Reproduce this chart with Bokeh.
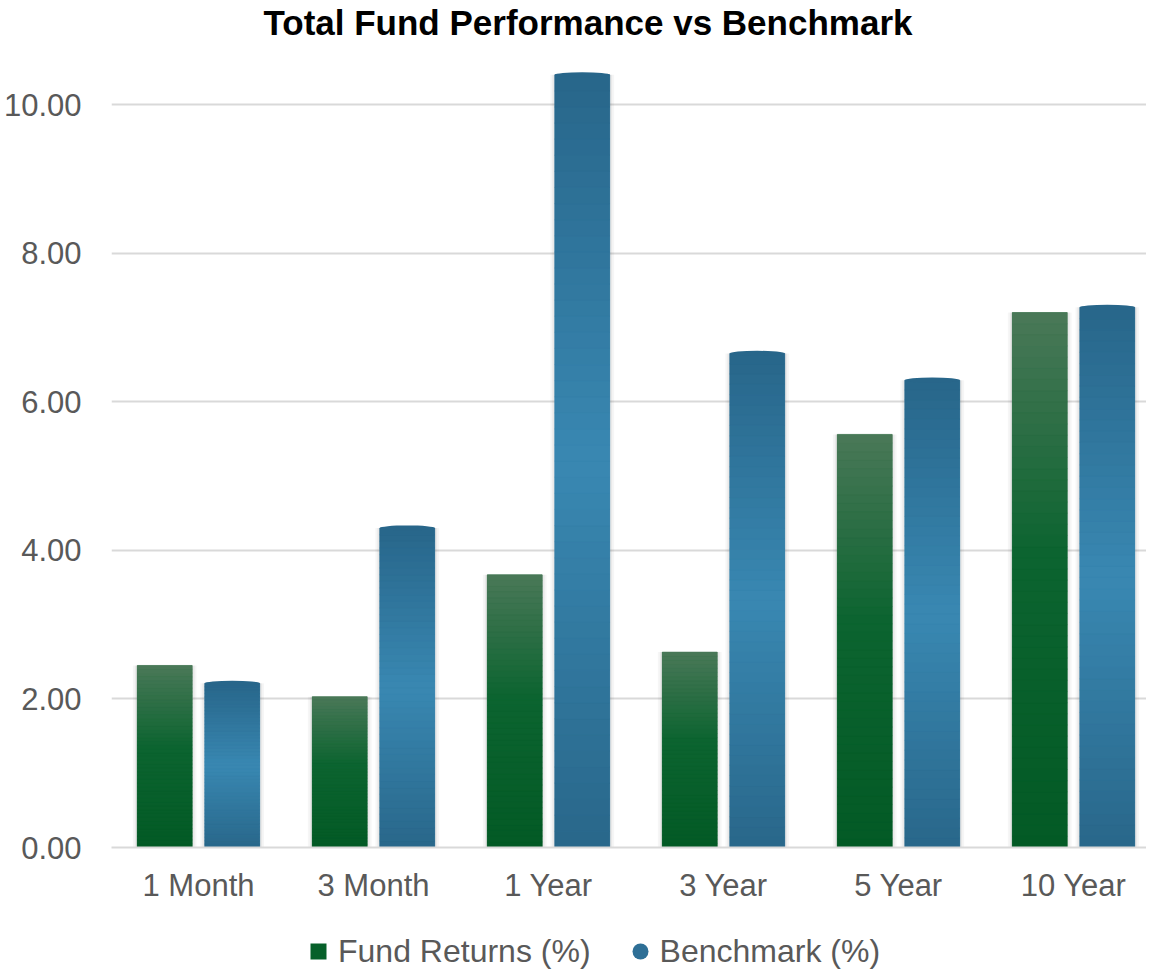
from bokeh.plotting import figure
from bokeh.layouts import column
from bokeh.models import (ColumnDataSource, Range1d, FixedTicker, NumeralTickFormatter,
                          Legend, LegendItem)
from bokeh.transform import dodge
from bokeh.embed import file_html
from bokeh.resources import INLINE

# ---------------- data ----------------
categories = ["1 Month", "3 Month", "1 Year", "3 Year", "5 Year", "10 Year"]
fund_returns = [2.45, 2.03, 3.67, 2.63, 5.56, 7.20]
benchmark = [2.21, 4.30, 10.40, 6.65, 6.29, 7.27]
series_names = ["Fund Returns (%)", "Benchmark (%)"]
y_ticks = [0, 2, 4, 6, 8, 10]

# ---------------- style ----------------
GREEN = "#0a6430"
BLUE = "#31799f"
GREEN_STOPS = [(0.0, (3, 90, 37)), (0.55, (12, 100, 48)), (1.0, (74, 120, 88))]
BLUE_STOPS = [(0.0, (41, 103, 138)), (0.5, (57, 136, 178)), (1.0, (40, 102, 138))]
TEXT_GREY = "#595959"
FONT = "Liberation Sans"
BAR_W = 0.314
OFFSET = 0.193
N_SLICES = 48
PX_PER_UNIT = 74.3
FRAME_H = 806


def grad(stops, t):
    for (t0, c0), (t1, c1) in zip(stops[:-1], stops[1:]):
        if t <= t1:
            f = (t - t0) / (t1 - t0) if t1 > t0 else 0
            c = [round(a + (b - a) * f) for a, b in zip(c0, c1)]
            return "#%02x%02x%02x" % tuple(c)
    return "#%02x%02x%02x" % stops[-1][1]


idx = list(range(len(categories)))
src = ColumnDataSource(dict(idx=idx, cat=categories, fund=fund_returns, bench=benchmark))

p = figure(frame_width=1035, frame_height=FRAME_H, output_backend="svg", toolbar_location=None,
           x_range=Range1d(-0.497, 5.417), y_range=Range1d(0, FRAME_H / PX_PER_UNIT),
           min_border_left=102, min_border_right=0, min_border_top=0,
           min_border_bottom=62, background_fill_color="white",
           border_fill_color="white", outline_line_color=None)

# title
p.title.text = "Total Fund Performance vs Benchmark"
p.title.text_font = FONT
p.title.text_font_size = "35px"
p.title.text_font_style = "bold"
p.title.text_color = "black"
p.title.align = "left"
p.title.offset = 152
p.title.standoff = 0

# grid
p.xgrid.grid_line_color = None
p.ygrid.grid_line_color = "#d9d9d9"
p.ygrid.grid_line_width = 2
p.ygrid.ticker = FixedTicker(ticks=y_ticks)

# y axis
p.yaxis.ticker = FixedTicker(ticks=y_ticks)
p.yaxis.formatter = NumeralTickFormatter(format="0.00")
p.yaxis.axis_line_color = None
p.yaxis.major_tick_line_color = None
p.yaxis.minor_tick_line_color = None
p.yaxis.major_tick_out = 0
p.yaxis.major_label_standoff = 30
p.yaxis.major_label_text_font = FONT
p.yaxis.major_label_text_font_size = "31px"
p.yaxis.major_label_text_color = TEXT_GREY

# x axis
p.xaxis.ticker = FixedTicker(ticks=idx)
p.xaxis.major_label_overrides = {i: c for i, c in zip(idx, categories)}
p.xaxis.axis_line_color = "#d9d9d9"
p.xaxis.axis_line_width = 2
p.xaxis.major_tick_line_color = None
p.xaxis.minor_tick_line_color = None
p.xaxis.major_tick_out = 0
p.xaxis.major_label_standoff = 20
p.xaxis.major_label_text_font = FONT
p.xaxis.major_label_text_font_size = "31px"
p.xaxis.major_label_text_color = TEXT_GREY

# soft shadows
for col, off in (("fund", -OFFSET), ("bench", OFFSET)):
    p.vbar(x=dodge("idx", off, range=p.x_range), top=col, width=BAR_W + 0.05, source=src,
           fill_color="black", fill_alpha=0.035, line_color=None)
    p.vbar(x=dodge("idx", off, range=p.x_range), top=col, width=BAR_W + 0.028, source=src,
           fill_color="black", fill_alpha=0.05, line_color=None)

# data bars
fund_r = p.vbar(x=dodge("idx", -OFFSET, range=p.x_range), top="fund", width=BAR_W,
                source=src, fill_color=GREEN, line_color=None)
bench_r = p.vbar(x=dodge("idx", OFFSET, range=p.x_range), top="bench", width=BAR_W,
                 source=src, fill_color=BLUE, line_color=None)

# gradient shading derived from the data values
for vals, off, stops in ((fund_returns, -OFFSET, GREEN_STOPS), (benchmark, OFFSET, BLUE_STOPS)):
    xs, bots, tops, cols = [], [], [], []
    for i, v in zip(idx, vals):
        for k in range(N_SLICES):
            xs.append(i + off)
            bots.append(v * k / N_SLICES)
            tops.append(v * (k + 1) / N_SLICES)
            cols.append(grad(stops, (k + 0.5) / N_SLICES))
    gsrc = ColumnDataSource(dict(x=xs, bottom=bots, top=tops, color=cols))
    p.vbar(x="x", bottom="bottom", top="top", width=BAR_W, source=gsrc,
           fill_color="color", line_color="color", line_width=0.6)

# rounded (cylinder-like) cap on the benchmark bars
p.ellipse(x=dodge("idx", OFFSET, range=p.x_range), y="bench", width=BAR_W, height=0.07,
          source=src, fill_color=grad(BLUE_STOPS, 1.0), line_color=None)

# ---------------- legend strip ----------------
lf = figure(width=1137, height=62, output_backend="svg", toolbar_location=None,
            x_range=Range1d(0, 1), y_range=Range1d(0, 1),
            x_axis_location=None, y_axis_location=None,
            min_border=0, min_border_left=0, min_border_right=0,
            min_border_top=0, min_border_bottom=0,
            outline_line_color=None, background_fill_color="white",
            border_fill_color="white")
lf.xgrid.grid_line_color = None
lf.ygrid.grid_line_color = None

leg_src = ColumnDataSource(dict(x=[-5], y=[-5]))
sq = lf.scatter(x="x", y="y", source=leg_src, marker="square", size=16,
                fill_color="#06602a", line_color=None)
ci = lf.scatter(x="x", y="y", source=leg_src, marker="circle", size=16,
                fill_color="#2e6f96", line_color=None)

legend = Legend(items=[LegendItem(label=series_names[0], renderers=[sq]),
                       LegendItem(label=series_names[1], renderers=[ci])],
                orientation="horizontal", location=(187, 0),
                glyph_width=40, glyph_height=40, label_standoff=0, spacing=29,
                padding=0, margin=0,
                border_line_color=None, background_fill_alpha=0,
                label_text_font=FONT, label_text_font_size="32px",
                label_text_color=TEXT_GREY)
lf.add_layout(legend, "center")

layout = column(p, lf, spacing=0)
open("out.html", "w").write(file_html(layout, INLINE))
